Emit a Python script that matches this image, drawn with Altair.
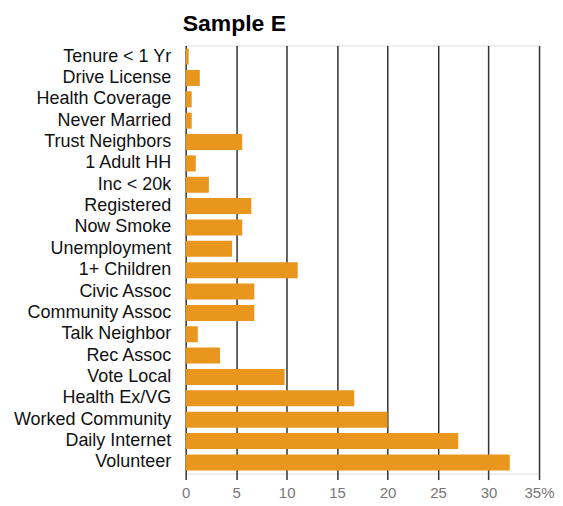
import altair as alt
import pandas as pd

categories = ["Tenure < 1 Yr", "Drive License", "Health Coverage", "Never Married",
              "Trust Neighbors", "1 Adult HH", "Inc < 20k", "Registered", "Now Smoke",
              "Unemployment", "1+ Children", "Civic Assoc", "Community Assoc",
              "Talk Neighbor", "Rec Assoc", "Vote Local", "Health Ex/VG",
              "Worked Community", "Daily Internet", "Volunteer"]
values = [0.3, 1.4, 0.6, 0.6, 5.6, 1.0, 2.3, 6.5, 5.6, 4.6, 11.1, 6.8, 6.8,
          1.2, 3.4, 9.8, 16.7, 20.0, 27.0, 32.1]
ticks = [0, 5, 10, 15, 20, 25, 30, 35]

df = pd.DataFrame({"category": categories, "value": values})

chart = alt.Chart(df).mark_bar(color="#E9961E").encode(
    x=alt.X("value:Q",
            scale=alt.Scale(domain=[0, 35], nice=False),
            axis=alt.Axis(title=None, values=ticks, domain=False, labelFlush=False,
                          labelExpr="datum.value == 35 ? '35%' : datum.label",
                          labelColor="#777777", labelFontSize=15, labelPadding=6,
                          tickColor="#333333", tickSize=6, tickWidth=1.5,
                          grid=True, gridColor="#333333", gridWidth=1.5)),
    y=alt.Y("category:N", sort=categories,
            scale=alt.Scale(paddingInner=0.25, paddingOuter=0.15),
            axis=alt.Axis(title=None, domain=False, ticks=False,
                          labelColor="#111111", labelFontSize=18, labelPadding=15)),
).properties(
    width=354, height=429,
    padding={"left": 5, "top": 5, "right": 0, "bottom": 5},
    title=alt.TitleParams("Sample E", anchor="start", frame="group", fontSize=23,
                          fontWeight="bold", color="#000000", offset=9, dx=-3),
).configure_view(stroke=None).configure(font="Liberation Sans")

chart.save("out.html", embed_options={"renderer": "svg", "actions": False})
